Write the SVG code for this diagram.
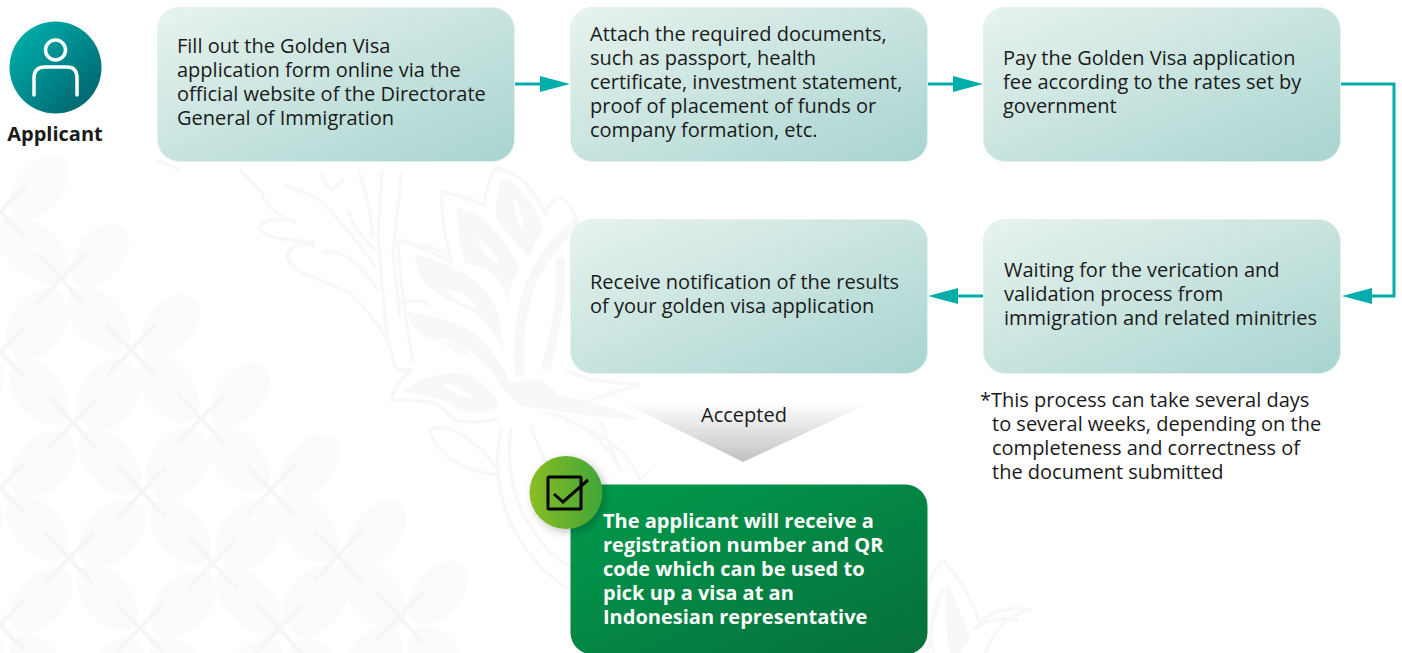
<svg xmlns="http://www.w3.org/2000/svg" xmlns:xlink="http://www.w3.org/1999/xlink" width="1402" height="653" viewBox="0 0 1402 653">
<style>
text{font-family:"Open Sans","Noto Sans","Liberation Sans",sans-serif;font-size:20px;fill:#1a1a1a}
.b{font-weight:700}
.w{fill:#fff;font-weight:700}
.box{fill:url(#boxG);stroke:#e4f1ee;stroke-width:1}
.conn{fill:none;stroke:#00ada9;stroke-width:3}
.head{fill:#00ada9}
.orn{fill:none;stroke:#f8f8f8;stroke-width:3.5;stroke-linejoin:round}
.ornf{fill:#f8f8f8;fill-rule:evenodd}
.pet{fill:#fbfbfb}
.xl{stroke:#f6f6f6;stroke-width:4;stroke-linecap:round;fill:none}
</style>
<defs>
<linearGradient id="boxG" x1="0" y1="0" x2="1" y2="1"><stop offset="0" stop-color="#e8f3ee"/><stop offset="1" stop-color="#a8d4d0"/></linearGradient>
<linearGradient id="greenG" x1="0" y1="0" x2="1" y2="1"><stop offset="0" stop-color="#009c4c"/><stop offset="1" stop-color="#076f3b"/></linearGradient>
<linearGradient id="userG" x1="0" y1="0" x2="1" y2="1"><stop offset="0.1" stop-color="#00aeaa"/><stop offset="0.9" stop-color="#00656e"/></linearGradient>
<linearGradient id="limeG" x1="0" y1="0" x2="1" y2="0"><stop offset="0" stop-color="#8abd24"/><stop offset="1" stop-color="#40a537"/></linearGradient>
<linearGradient id="triG" x1="0" y1="0" x2="0" y2="1"><stop offset="0" stop-color="#ffffff"/><stop offset="1" stop-color="#c2c1c1"/></linearGradient>
<filter id="sh" x="-30%" y="-30%" width="170%" height="170%"><feDropShadow dx="3" dy="3" stdDeviation="4" flood-color="#000" flood-opacity="0.25"/></filter>
<g id="petal">
<ellipse class="pet" cx="39" cy="-24" rx="37" ry="23" transform="rotate(-50 39 -24)"/>
<ellipse class="pet" cx="-34" cy="-32" rx="37" ry="23" transform="rotate(50 -34 -32)"/>
<ellipse class="pet" cx="-26" cy="41" rx="37" ry="23" transform="rotate(-50 -26 41)"/>
<ellipse class="pet" cx="39" cy="41" rx="37" ry="23" transform="rotate(50 39 41)"/>
</g>
<path id="cross" class="xl" d="M-23,-24L23,24M23,-24L-23,24"/>
</defs>
<rect width="1402" height="653" fill="#fff"/>
<g id="background">
<use xlink:href="#petal" x="61" y="279"/><use xlink:href="#petal" x="131" y="350"/><use xlink:href="#petal" x="201" y="419"/><use xlink:href="#petal" x="271" y="490"/><use xlink:href="#petal" x="338" y="556"/><use xlink:href="#petal" x="399" y="617"/>
<use xlink:href="#petal" x="0" y="352"/><use xlink:href="#petal" x="73" y="423"/><use xlink:href="#petal" x="142" y="492"/><use xlink:href="#petal" x="213" y="563"/><use xlink:href="#petal" x="279" y="629"/>
<use xlink:href="#petal" x="0" y="488"/><use xlink:href="#petal" x="69" y="558"/><use xlink:href="#petal" x="140" y="628"/>
<use xlink:href="#petal" x="0" y="625"/><use xlink:href="#petal" x="0" y="212"/>
<use xlink:href="#cross" x="61" y="279"/><use xlink:href="#cross" x="131" y="350"/><use xlink:href="#cross" x="201" y="419"/><use xlink:href="#cross" x="271" y="490"/><use xlink:href="#cross" x="338" y="556"/><use xlink:href="#cross" x="399" y="617"/>
<use xlink:href="#cross" x="0" y="352"/><use xlink:href="#cross" x="73" y="423"/><use xlink:href="#cross" x="142" y="492"/><use xlink:href="#cross" x="213" y="563"/><use xlink:href="#cross" x="279" y="629"/>
<use xlink:href="#cross" x="0" y="488"/><use xlink:href="#cross" x="69" y="558"/><use xlink:href="#cross" x="140" y="628"/>
<use xlink:href="#cross" x="0" y="625"/><use xlink:href="#cross" x="0" y="212"/>
<path class="ornf" d="M502,178Q515,182 520,190Q535,205 543,228L528,258Q510,235 497,220Q493,205 502,178ZM513,198Q522,205 524,233Q515,220 513,198Z"/>
<path class="ornf" d="M457,208Q475,212 483,218Q505,240 520,268Q508,285 508,305Q505,290 495,275Q480,265 465,263Q458,240 457,208ZM476,237Q493,245 499,266Q485,257 476,237Z"/>
<path class="ornf" d="M415,255Q440,260 457,270Q490,285 500,320L505,357Q495,325 470,310Q435,295 425,283Q415,270 415,255ZM445,289Q465,290 477,307Q457,305 445,289Z"/>
<path class="ornf" d="M407,312Q440,315 470,330Q495,350 510,382Q519,383 524,378Q550,380 558,396Q600,400 640,420Q570,415 520,405Q505,395 490,370Q470,345 443,342Q415,340 407,312ZM438,338Q460,340 470,356Q450,352 438,338Z"/>
<path class="ornf" d="M403,391Q430,372 460,373Q485,378 500,405Q480,418 455,407Q440,396 403,391ZM440,383Q460,385 474,398Q455,396 440,383Z"/>
<path class="orn" d="M495,167Q520,175 527,185Q540,200 545,215M495,167Q485,190 484,205Q460,195 442,192Q440,220 452,263Q420,245 398,240M398,240Q400,290 413,362"/>
<path class="orn" d="M400,302Q420,298 430,305M396,370L411,370Q398,380 391,400Q420,400 436,403Q445,410 455,420Q480,425 498,418"/>
<path class="orn" style="stroke-width:10" d="M578,222Q548,245 530,285Q515,330 520,376"/>
<path class="orn" d="M545,215Q552,198 560,198Q568,198 578,222"/>
<path class="orn" style="stroke-width:9" d="M560,258Q565,300 545,370"/>
<path class="orn" d="M429,430Q447,423 465,437Q485,450 495,467M429,430Q445,470 498,475M502,427Q490,470 509,520Q530,565 570,590M511,427Q505,470 520,507Q540,550 570,567M530,425Q545,465 560,485M545,412Q600,425 620,470L600,420M565,420Q625,440 640,480L650,470M590,400Q620,390 640,385L590,380L565,370"/>
<path class="orn" d="M240,170Q255,185 262,193Q265,210 295,222Q269,215 259,227Q262,240 315,242M315,246Q290,240 287,257Q290,265 302,273Q330,283 349,293Q370,310 387,340"/>
<path class="orn" d="M284,185Q300,190 320,200Q345,225 376,267M322,253Q335,250 349,258Q365,270 378,290M349,210Q350,225 375,250M320,170Q330,195 335,187L344,180M358,170Q370,200 373,238M382,170L378,237L382,283L387,337L396,370M402,170L393,253L400,317"/>
<path class="orn" d="M398,240Q425,245 444,252L453,265M157,160L180,170"/>
<path class="orn" d="M934,653Q925,625 943,590Q930,620 928,653M943,560Q970,590 980,625M943,560Q925,580 928,600M980,622Q1000,605 1031,610Q1000,615 985,653M973,630Q990,615 1018,620"/>
<path class="ornf" d="M947,583Q965,620 970,640L960,653L950,653Q942,610 947,583Z"/>
</g>
<g id="connectors">
<path class="conn" d="M514,84H542"/><polygon class="head" points="540,76 570,84 540,92"/>
<path class="conn" d="M927,84H955"/><polygon class="head" points="953,76 983,84 953,92"/>
<path class="conn" d="M1340,84H1394V296H1370"/><polygon class="head" points="1372,288 1342,296 1372,304"/>
<path class="conn" d="M983,296H956"/><polygon class="head" points="958,288 928,296 958,304"/>
</g>
<g id="applicant">
<circle cx="55.5" cy="67.5" r="46" fill="url(#userG)"/>
<circle cx="55.5" cy="50" r="10" fill="none" stroke="#fff" stroke-width="3.5"/>
<path d="M34,95V78Q34,67 45,67H67Q77,67 77,78V95" fill="none" stroke="#fff" stroke-width="3.5" stroke-linecap="round"/>
<text class="b" x="55" y="141" text-anchor="middle">Applicant</text>
</g>
<g id="step1">
<rect class="box" x="157.5" y="7.5" width="357" height="154" rx="22"/>
<text x="177" y="53">Fill out the Golden Visa</text><text x="177" y="77">application form online via the</text><text x="177" y="101">official website of the Directorate</text><text x="177" y="125">General of Immigration</text>
</g>
<g id="step2">
<rect class="box" x="570.5" y="7.5" width="357" height="154" rx="22"/>
<text x="590" y="41">Attach the required documents,</text><text x="590" y="65">such as passport, health</text><text x="590" y="89">certificate, investment statement,</text><text x="590" y="113">proof of placement of funds or</text><text x="590" y="137">company formation, etc.</text>
</g>
<g id="step3">
<rect class="box" x="983.5" y="7.5" width="357" height="154" rx="22"/>
<text x="1003" y="65">Pay the Golden Visa application</text><text x="1003" y="89">fee according to the rates set by</text><text x="1003" y="113">government</text>
</g>
<g id="step4">
<rect class="box" x="983.5" y="219.5" width="357" height="154" rx="22"/>
<text x="1004" y="277">Waiting for the verication and</text><text x="1004" y="301">validation process from</text><text x="1004" y="325">immigration and related minitries</text>
</g>
<g id="note">
<text x="980" y="407">*This process can take several days</text><text x="992" y="431">to several weeks, depending on the</text><text x="992" y="455">completeness and correctness of</text><text x="992" y="479">the document submitted</text>
</g>
<g id="step5">
<rect class="box" x="570.5" y="219.5" width="357" height="154" rx="22"/>
<text x="590" y="289">Receive notification of the results</text><text x="590" y="313">of your golden visa application</text>
</g>
<g id="accepted">
<polygon points="622,402 872,402 743,462" fill="url(#triG)"/>
<text x="744" y="422" text-anchor="middle">Accepted</text>
</g>
<g id="result">
<rect x="570.5" y="484.5" width="357" height="170" rx="22" fill="url(#greenG)"/>
<circle cx="566" cy="492.5" r="36.5" fill="url(#limeG)" filter="url(#sh)"/>
<rect x="548" y="477" width="33" height="32" rx="1" fill="none" stroke="#000" stroke-width="3"/>
<path d="M554,494L563,502L588,480" fill="none" stroke="#000" stroke-width="3"/>
<text class="w" x="603" y="528">The applicant will receive a</text><text class="w" x="603" y="552">registration number and QR</text><text class="w" x="603" y="576">code which can be used to</text><text class="w" x="603" y="600">pick up a visa at an</text><text class="w" x="603" y="624">Indonesian representative</text>
</g>
</svg>
